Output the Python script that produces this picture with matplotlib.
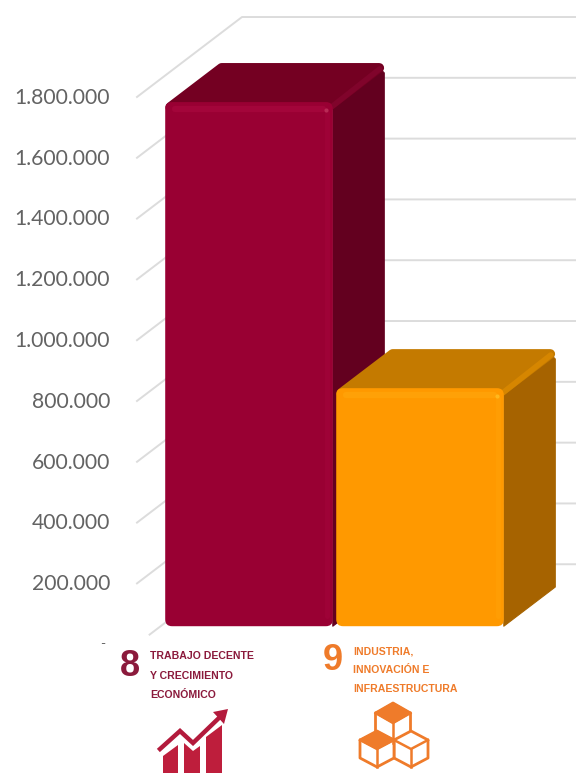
import matplotlib
matplotlib.use('Agg')
import matplotlib.pyplot as plt
from matplotlib.patches import FancyBboxPatch, Polygon
from matplotlib.transforms import Affine2D

# --- Data ---
categories = ['8', '9']
values = [1724000, 783000]
tick_values = [0, 200000, 400000, 600000, 800000, 1000000, 1200000, 1400000, 1600000, 1800000]
label_lines_8 = ['TRABAJO DECENTE', 'Y CRECIMIENTO', 'ECONÓMICO']
label_lines_9 = ['INDUSTRIA,', 'INNOVACIÓN E', 'INFRAESTRUCTURA']

# --- Colours ---
front_colors = ['#990033', '#FF9900']
top_colors = ['#740022', '#C47A00']
side_colors = ['#63001F', '#A66300']
bevel_colors = ['#A3053A', '#FFA107']
edge_bevel_colors = ['#80042B', '#D68600']
spot_colors = ['#B82A55', '#FFB81E']
GRID = '#DCDCDC'
TEXT_GRAY = '#636363'

# --- 3D look: how far one unit of depth moves a point ---
WALL_DX = 0.614
WALL_DY = 263000
BAR_START = 0.21
BAR_END = 0.70
BAR_WIDTH = 0.98

XLIM = (-0.526, 2.041)
YLIM = (-427600, 2115000)


def shift(x, v, depth):
    return x + depth * WALL_DX, v + depth * WALL_DY


fig = plt.figure(figsize=(5.76, 7.73), dpi=100)
ax = fig.add_axes([137 / 576, 0, 1 - 137 / 576, 1])
ax.set_xlim(*XLIM)
ax.set_ylim(*YLIM)
for s in ax.spines.values():
    s.set_visible(False)
ax.set_xticks([])
ax.set_yticks(tick_values)
ax.set_yticklabels(['- ' if v == 0 else f'{v:,}'.replace(',', '.') for v in tick_values],
                   fontfamily='Lato', fontsize=15.2, color=TEXT_GRAY)
ax.tick_params(axis='y', length=0, pad=19.5)
ax.get_yticklabels()[0].set_fontsize(10)

# px sizes in data units
px_x = (XLIM[1] - XLIM[0]) / 439
px_y = (YLIM[1] - YLIM[0]) / 773

# gridlines: side wall, then back wall, 1px below the tick position
grid_tr = ax.transData + Affine2D().translate(0, -1.2)
for v in tick_values:
    x1, y1 = shift(XLIM[0], v, 1)
    start = 0.12 if v == 0 else 0
    x0, y0 = shift(XLIM[0], v, start)
    ax.plot([x0, x1, XLIM[1]], [y0, y1, y1], color=GRID, lw=1.4, zorder=1, clip_on=False,
            transform=grid_tr)

# y per x unit, so rounded corners stay round on screen
aspect = px_y / px_x
R = 5 * px_x
RY = 5 * px_y

for i, v in enumerate(values):
    x0 = i - BAR_WIDTH / 2
    x1 = i + BAR_WIDTH / 2
    z = 3 + i * 6
    fx0, fy1 = shift(x0, v, BAR_START)
    fx1, _ = shift(x1, v, BAR_START)
    _, fy0 = shift(x0, 0, BAR_START)
    bx0, by1 = shift(x0, v, BAR_END)
    bx1, _ = shift(x1, v, BAR_END)
    _, by0 = shift(x1, 0, BAR_END)

    # side face, top corner left to the round stroke of the top face
    ax.add_patch(Polygon([(fx1, fy1), (bx1 - R, by1 - RY), (bx1, by1 - 2 * RY), (bx1, by0), (fx1, fy0)],
                         fc=side_colors[i], ec=side_colors[i], lw=0.8, joinstyle='round', zorder=z))
    # top face: inset polygon with a thick round stroke gives the soft corners
    ax.add_patch(Polygon([(fx0 + R, fy1 - RY), (bx0 + R, by1 - RY), (bx1 - R, by1 - RY), (fx1 - R, fy1 - RY)],
                         fc=top_colors[i], ec=top_colors[i], lw=7, joinstyle='round', zorder=z + 1))
    # bevel along the top right edge
    ax.plot([fx1 - 0.3 * R, bx1 - 0.9 * R], [fy1 - RY, by1 - 1.2 * RY], color=edge_bevel_colors[i],
            lw=4, solid_capstyle='round', zorder=z + 2)
    # front face
    ax.add_patch(FancyBboxPatch((fx0, fy0), fx1 - fx0, fy1 - fy0,
                                boxstyle='round,pad=0,rounding_size=0.04',
                                mutation_aspect=aspect,
                                fc=front_colors[i], ec='none', zorder=z + 3))
    # bevels along the top and right of the front face
    ax.plot([fx0 + 2 * R, fx1 - 2 * R], [fy1 - 1.4 * RY, fy1 - 1.4 * RY], color=bevel_colors[i],
            lw=4.5, solid_capstyle='round', zorder=z + 4)
    ax.plot([fx1 - 1.2 * R, fx1 - 1.2 * R], [fy1 - 2 * RY, fy0 + 2 * RY], color=bevel_colors[i],
            lw=3.5, solid_capstyle='round', alpha=0.6, zorder=z + 4)
    ax.plot([fx1 - 1.4 * R], [fy1 - 1.6 * RY], 'o', ms=3, color=spot_colors[i], mec='none', zorder=z + 5)

# --- Goal logos, drawn in pixel coordinates ---
logo = fig.add_axes([0, 0, 1, 1])
logo.set_xlim(0, 576)
logo.set_ylim(773, 0)
logo.axis('off')
logo.patch.set_alpha(0)

FONT = 'Liberation Sans'
RED = '#8B1A3C'
ORANGE = '#EF7B2A'

logo.text(130, 667, categories[0], color=RED, fontsize=26, fontweight='bold', family=FONT,
          ha='center', va='center')
logo.text(332.5, 661, categories[1], color=ORANGE, fontsize=26, fontweight='bold', family=FONT,
          ha='center', va='center')
for line, y in zip(label_lines_8, [656, 676, 695]):
    logo.text(150, y, line, color=RED, fontsize=7.55, fontweight='bold', family=FONT, va='center')
for line, y in zip(label_lines_9, [651, 670, 689]):
    logo.text(353, y, line, color=ORANGE, fontsize=7.55, fontweight='bold', family=FONT, va='center')

# growth icon
ICON_RED = '#BE1E3C'
logo.add_patch(Polygon([(163, 773), (163, 756), (178, 745), (178, 773)], fc=ICON_RED, ec='none'))
logo.add_patch(Polygon([(184, 773), (184, 743), (193, 751), (200, 746), (200, 773)], fc=ICON_RED, ec='none'))
logo.add_patch(Polygon([(206, 773), (206, 737), (222, 725), (222, 773)], fc=ICON_RED, ec='none'))
logo.plot([160, 180, 193, 221], [749, 731, 743, 716], color='#B31A3C', lw=3.2, solid_joinstyle='miter')
logo.add_patch(Polygon([(228, 709), (224, 724), (213, 712)], fc='#B31A3C', ec='none'))


# cube icon
def cube(cx, cy, rx, ry, filled):
    top, bottom = (cx, cy - ry), (cx, cy + ry)
    ul, ur = (cx - rx, cy - ry / 2), (cx + rx, cy - ry / 2)
    ll, lr = (cx - rx, cy + ry / 2), (cx + rx, cy + ry / 2)
    mid = (cx, cy)
    logo.add_patch(Polygon([top, ur, lr, bottom, ll, ul], fc='white', ec=ORANGE, lw=2, joinstyle='round'))
    if filled:
        logo.add_patch(Polygon([top, ur, mid, ul], fc=ORANGE, ec=ORANGE, lw=1.2))
    logo.plot([ul[0], mid[0], ur[0]], [ul[1], mid[1], ur[1]], color=ORANGE, lw=1.8)
    logo.plot([mid[0], bottom[0]], [mid[1], bottom[1]], color=ORANGE, lw=1.8)


cube(393, 723, 17.5, 20, True)
cube(411, 749, 17, 18, False)
cube(377, 749, 17, 18, True)

fig.savefig('out.png', dpi=100)
